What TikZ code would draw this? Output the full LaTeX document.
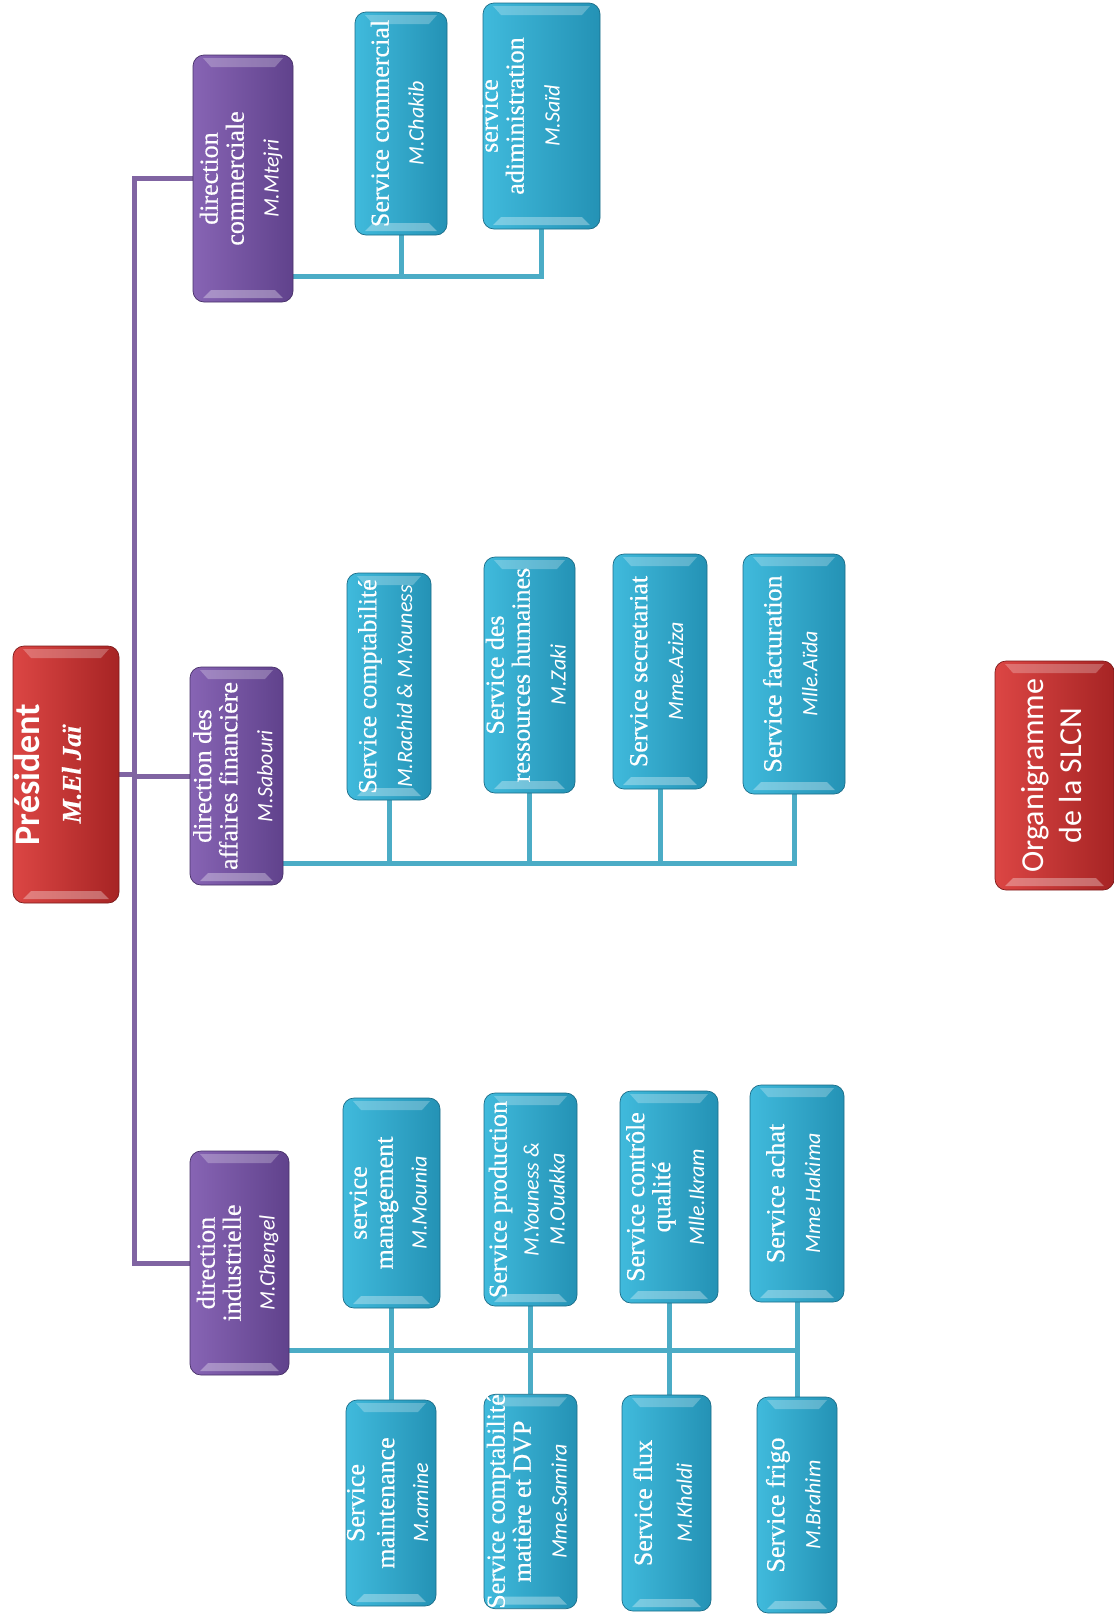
\documentclass[tikz,border=0pt]{standalone}
\usepackage{fontspec}
\setmainfont[FakeBold=0.4]{Liberation Serif}
\newfontfamily\namefont{Carlito}
\usetikzlibrary{backgrounds}
\definecolor{tealL}{RGB}{64,186,220}
\definecolor{tealD}{RGB}{36,146,181}
\definecolor{purL}{RGB}{135,100,180}
\definecolor{purD}{RGB}{96,66,140}
\definecolor{redL}{RGB}{220,70,68}
\definecolor{redD}{RGB}{166,36,36}
\definecolor{tealLine}{RGB}{75,172,198}
\definecolor{purLine}{RGB}{128,100,162}
\newcommand{\nm}[1]{{\namefont\itshape\fontsize{22}{24}\selectfont #1}}
\newcommand{\vtext}[1]{\rotatebox{90}{\fontsize{26}{26}\selectfont\begin{tabular}{@{}c@{}}#1\end{tabular}}}
\tikzset{
  bx/.style 2 args={draw=#2!75!black, line width=0.7pt, rounded corners=11pt,
    left color=#1, right color=#2, inner sep=0pt, text=white,
    path picture={
      \fill[white,opacity=0.25,sharp corners]
        ([shift={(10pt,-3pt)}]path picture bounding box.north west) --
        ([shift={(-10pt,-3pt)}]path picture bounding box.north east) --
        ([shift={(-18pt,-12pt)}]path picture bounding box.north east) --
        ([shift={(18pt,-12pt)}]path picture bounding box.north west) -- cycle;
      \fill[white,opacity=0.32,sharp corners]
        ([shift={(10pt,4pt)}]path picture bounding box.south west) --
        ([shift={(-10pt,4pt)}]path picture bounding box.south east) --
        ([shift={(-18pt,12pt)}]path picture bounding box.south east) --
        ([shift={(18pt,12pt)}]path picture bounding box.south west) -- cycle;
    }},
  tealbox/.style={bx={tealL}{tealD}},
  purbox/.style={bx={purL}{purD}},
  redbox/.style={bx={redL}{redD}},
  tl/.style={draw=tealLine, line width=5pt},
  pl/.style={draw=purLine, line width=5pt},
}
\begin{document}
\begin{tikzpicture}[x=1pt,y=-1pt]
\useasboundingbox (0,0) rectangle (1114,1615);
\begin{scope}[on background layer]
\fill[white] (0,0) rectangle (1114,1615);
\end{scope}

% President
\node[redbox, minimum width=106pt, minimum height=257pt] (pres) at (66,774.5)
  {\hspace*{-28pt}\rotatebox{90}{\fontsize{35}{41}\selectfont\begin{tabular}{@{}c@{}}{\namefont\bfseries\fontsize{36}{36}\selectfont Président}\\{\bfseries\itshape\fontsize{27}{28}\selectfont M.El Jaï}\end{tabular}}};

% Directions
\node[purbox, minimum width=100pt, minimum height=247pt] (dirC) at (243,178.5)
  {\vtext{direction\\commerciale\\[9pt]\nm{M.Mtejri}}};
\node[purbox, minimum width=93pt, minimum height=218pt] (dirF) at (236.5,776)
  {\vtext{direction des\\affaires financière\\[9pt]\nm{M.Sabouri}}};
\node[purbox, minimum width=99pt, minimum height=224pt] (dirI) at (239.5,1263)
  {\vtext{direction\\industrielle\\[8pt]\nm{M.Chengel}}};

% Commercial services
\node[tealbox, minimum width=92pt, minimum height=223pt] (sCom) at (401,123.5)
  {\vtext{Service commercial\\[9pt]\nm{M.Chakib}}};
\node[tealbox, minimum width=117pt, minimum height=226pt] (sAdm) at (541.5,116)
  {\hspace*{-36pt}\vtext{service\\adiministration\\[10pt]\nm{M.Saïd}}};

% Financial services
\node[tealbox, minimum width=84pt, minimum height=227pt] (sCpt) at (389,686.5)
  {\vtext{Service comptabilité\\[10pt]\nm{M.Rachid \& M.Youness}}};
\node[tealbox, minimum width=91pt, minimum height=236pt] (sRH) at (529.5,675)
  {\vtext{Service des\\ressources humaines\\[10pt]\nm{M.Zaki}}};
\node[tealbox, minimum width=94pt, minimum height=235pt] (sSec) at (660,671.5)
  {\vtext{Service secretariat\\[10pt]\nm{Mme.Aziza}}};
\node[tealbox, minimum width=102pt, minimum height=240pt] (sFac) at (794,674)
  {\vtext{Service facturation\\[10pt]\nm{Mlle.Aïda}}};

% Industrial services (upper row)
\node[tealbox, minimum width=97pt, minimum height=210pt] (sMan) at (391.5,1203)
  {\vtext{service\\management\\[8pt]\nm{M.Mounia}}};
\node[tealbox, minimum width=93pt, minimum height=213pt] (sPro) at (530.5,1199.5)
  {\vtext{Service production\\[6pt]\nm{M.Youness \&}\\\nm{M.Ouakka}}};
\node[tealbox, minimum width=98pt, minimum height=212pt] (sQua) at (669,1197)
  {\vtext{Service contrôle\\qualité\\[8pt]\nm{Mlle.Ikram}}};
\node[tealbox, minimum width=94pt, minimum height=217pt] (sAch) at (797,1193.5)
  {\vtext{Service achat\\[10pt]\nm{Mme Hakima}}};

% Industrial services (lower row)
\node[tealbox, minimum width=90pt, minimum height=206pt] (sMai) at (391,1503)
  {\vtext{Service\\[4pt]maintenance\\[8pt]\nm{M.amine}}};
\node[tealbox, minimum width=93pt, minimum height=213pt] (sCmp) at (530.5,1501.5)
  {\vtext{Service comptabilité\\matière et DVP\\[10pt]\nm{Mme.Samira}}};
\node[tealbox, minimum width=89pt, minimum height=216pt] (sFlu) at (666.5,1503)
  {\vtext{Service flux\\[14pt]\nm{M.Khaldi}}};
\node[tealbox, minimum width=80pt, minimum height=216pt] (sFri) at (797,1505)
  {\vtext{Service frigo\\[10pt]\nm{M.Brahim}}};

% Title box
\node[redbox, minimum width=119pt, minimum height=229pt] (org) at (1054.5,775.5)
  {\rotatebox{90}{\namefont\fontsize{32}{38}\selectfont\begin{tabular}{@{}c@{}}Organigramme\\de la SLCN\end{tabular}}};

% Connectors
\coordinate (tr) at (134,0);
\coordinate (cb) at (0,276);
\coordinate (fb) at (0,863);
\coordinate (ib) at (0,1350);
\begin{scope}[on background layer]
\draw[pl] (pres.east) -- (pres.east -| tr);
\draw[pl] (dirC.west) -- (dirC.west -| tr) -- (dirI.west -| tr) -- (dirI.west);
\draw[pl] (dirF.west) -- (dirF.west -| tr);

\draw[tl] (cb -| dirC.east) -- (cb -| sAdm.south) -- (sAdm.south);
\draw[tl] (sCom.south) -- (cb -| sCom.south);

\draw[tl] (fb -| dirF.east) -- (fb -| sFac.south) -- (sFac.south);
\draw[tl] (sCpt.south) -- (fb -| sCpt.south);
\draw[tl] (sRH.south) -- (fb -| sRH.south);
\draw[tl] (sSec.south) -- (fb -| sSec.south);

\draw[tl] (ib -| dirI.east) -- (ib -| sAch.south);
\draw[tl] (sMan.south) -- (sMan.south |- sMai.north);
\draw[tl] (sPro.south) -- (sPro.south |- sCmp.north);
\draw[tl] (sQua.south) -- (sQua.south |- sFlu.north);
\draw[tl] (sAch.south) -- (sAch.south |- sFri.north);
\end{scope}
\end{tikzpicture}
\end{document}
